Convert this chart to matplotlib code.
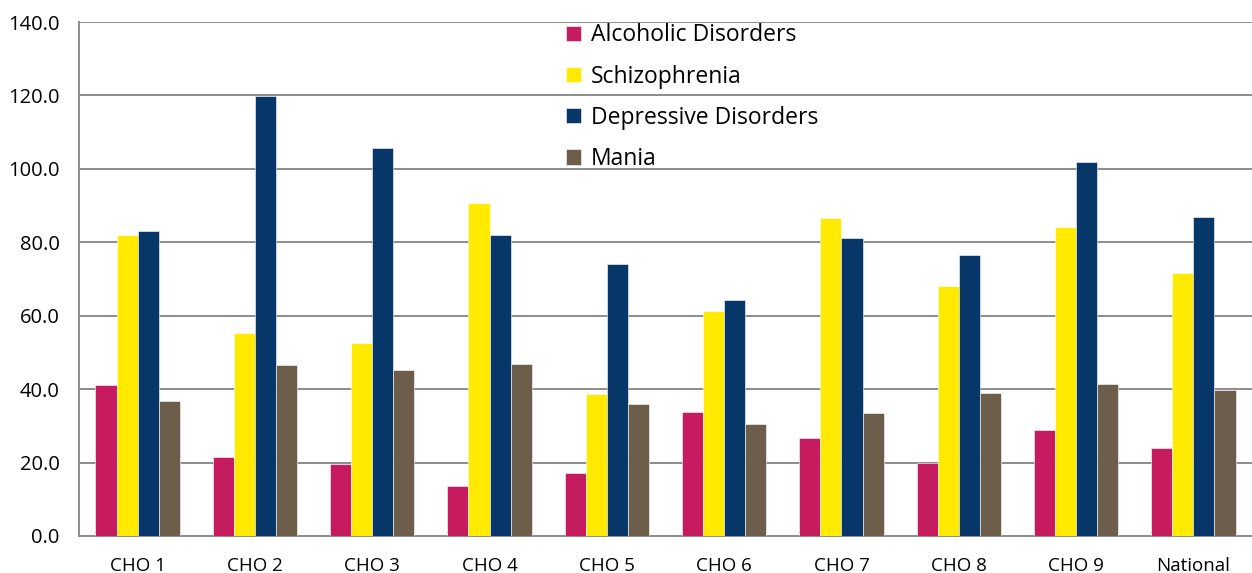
import matplotlib as mplt
mplt.use("Agg")
import matplotlib.pyplot as plt
import numpy as np

# Rates by area
categories = ['CHO 1', 'CHO 2', 'CHO 3', 'CHO 4', 'CHO 5',
              'CHO 6', 'CHO 7', 'CHO 8', 'CHO 9', 'National']
alcoholic = [41.1, 21.5, 19.6, 13.6, 17.2, 33.8, 26.7, 19.9, 28.9, 24.0]
schizophrenia = [82.0, 55.3, 52.6, 90.7, 38.7, 61.3, 86.6, 68.1, 84.2, 71.7]
depressive = [83.1, 119.9, 105.7, 82.0, 74.1, 64.3, 81.2, 76.6, 101.9, 86.9]
mania = [36.8, 46.6, 45.2, 46.9, 36.0, 30.5, 33.5, 39.0, 41.4, 39.8]

series = [
    ('Alcoholic Disorders', alcoholic, '#C61C5F'),
    ('Schizophrenia', schizophrenia, '#FFEA00'),
    ('Depressive Disorders', depressive, '#073769'),
    ('Mania', mania, '#6D5D4B'),
]

plt.rcParams['font.family'] = ['Open Sans', 'DejaVu Sans']

fig = plt.figure(figsize=(12.52, 5.73), dpi=100)
ax = fig.add_axes([0.0631, 0.0646, 0.9369, 0.897])

x = np.arange(len(categories))
width = 0.18
for i, (name, vals, color) in enumerate(series):
    ax.bar(x + (i - 1.5) * width, vals, width, color=color, label=name,
           edgecolor='white', linewidth=0.4, zorder=3)

ax.set_xlim(-0.5, len(categories) - 0.5)
ax.set_ylim(0, 140)
ax.set_yticks(np.arange(0, 141, 20))
ax.set_yticklabels([f'{v:.1f}' for v in np.arange(0, 141, 20)])
ax.set_xticks(x)
ax.set_xticklabels(categories)
ax.tick_params(axis='both', length=0, colors='black')
ax.tick_params(axis='y', labelsize=14.5, pad=14)
ax.tick_params(axis='x', labelsize=13.5, pad=15)

ax.yaxis.grid(True, color='#8C8C8C', linewidth=1.4, zorder=0)
ax.set_axisbelow(True)
for side in ['top', 'right']:
    ax.spines[side].set_visible(False)
for side in ['left', 'bottom']:
    ax.spines[side].set_color('#8C8C8C')
    ax.spines[side].set_linewidth(1.4)

fig.legend(loc='upper left', bbox_to_anchor=(0.4355, 0.995), frameon=False,
           fontsize=16.5, handlelength=0.65, handleheight=0.65, handletextpad=0.45,
           labelspacing=0.75)

plt.savefig('out.png', dpi=100)
